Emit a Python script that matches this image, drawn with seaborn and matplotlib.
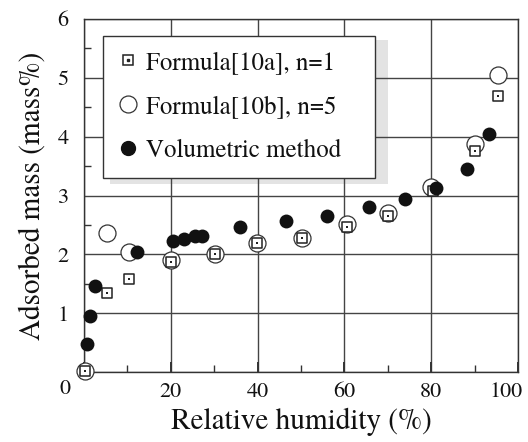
import matplotlib
matplotlib.use("Agg")
import matplotlib.pyplot as plt
import seaborn as sns
import pandas as pd
from matplotlib import ticker
from matplotlib.lines import Line2D
from matplotlib.patches import Rectangle
from matplotlib.transforms import ScaledTranslation
from matplotlib.legend_handler import HandlerTuple

# data
rh_10a = [0.2, 5.2, 10.3, 20.0, 30.1, 39.9, 50.3, 60.6, 70.1, 80.4, 90.1, 95.4]
mass_10a = [0.02, 1.34, 1.58, 1.88, 2.01, 2.19, 2.28, 2.47, 2.66, 3.07, 3.75, 4.70]

rh_10b = [0.2, 5.2, 10.3, 20.0, 30.1, 39.9, 50.3, 60.6, 70.1, 80.0, 90.0, 95.3]
mass_10b = [0.02, 2.37, 2.05, 1.90, 2.00, 2.20, 2.28, 2.52, 2.70, 3.15, 3.88, 5.05]

rh_vol = [0.7, 1.3, 2.6, 12.3, 20.6, 23.1, 25.6, 27.2, 36.0, 46.5, 56.0, 65.6, 74.0, 81.0, 88.2, 93.4]
mass_vol = [0.48, 0.96, 1.47, 2.05, 2.23, 2.27, 2.32, 2.32, 2.47, 2.57, 2.66, 2.80, 2.94, 3.13, 3.46, 4.04]

labels = ["Formula[10a], n=1", "Formula[10b], n=5", "Volumetric method"]
x_ticks = [0, 20, 40, 60, 80, 100]
y_ticks = [0, 1, 2, 3, 4, 5, 6]

sns.set_style("ticks")
plt.rcParams["font.family"] = ["TeX Gyre Termes", "FreeSerif", "STIXGeneral", "DejaVu Serif"]

df_a = pd.DataFrame({"rh": rh_10a, "mass": mass_10a})
df_b = pd.DataFrame({"rh": rh_10b, "mass": mass_10b})
df_v = pd.DataFrame({"rh": rh_vol, "mass": mass_vol})

fig = plt.figure(figsize=(5.28, 4.42), dpi=100)
ax = fig.add_axes([0.159, 0.158, 0.822, 0.799])

edge = "#222222"
sns.scatterplot(data=df_b, x="rh", y="mass", ax=ax, marker="o", s=150, facecolor="white",
                edgecolor="#333333", linewidth=0.9, clip_on=False, zorder=3, legend=False)
sns.scatterplot(data=df_a, x="rh", y="mass", ax=ax, marker="s", s=52, facecolor="white",
                edgecolor=edge, linewidth=1.1, clip_on=False, zorder=4, legend=False)
sns.scatterplot(data=df_a, x="rh", y="mass", ax=ax, marker="s", s=2.5, color=edge,
                linewidth=0, clip_on=False, zorder=5, legend=False)
sns.scatterplot(data=df_v, x="rh", y="mass", ax=ax, marker="o", s=100, color="#111111",
                linewidth=0, clip_on=False, zorder=6, legend=False)

ax.set_xlim(0, 100)
ax.set_ylim(0, 6)
ax.xaxis.set_major_locator(ticker.FixedLocator(x_ticks))
ax.yaxis.set_major_locator(ticker.FixedLocator(y_ticks))
ax.xaxis.set_minor_locator(ticker.MultipleLocator(10))
ax.yaxis.set_minor_locator(ticker.MultipleLocator(0.5))
ax.set_xticklabels([""] + [str(t) for t in x_ticks[1:]])
ax.set_yticklabels([""] + [str(t) for t in y_ticks[1:]])

ax.grid(True, which="major", color="#444444", linewidth=1.0)
ax.set_axisbelow(True)
for sp in ax.spines.values():
    sp.set_color("#333333")
    sp.set_linewidth(1.0)

ax.tick_params(axis="both", which="both", direction="in", colors="#333333",
               labelcolor="#111111", labelsize=16)
ax.tick_params(axis="x", which="major", length=7, width=1.4, pad=7)
ax.tick_params(axis="x", which="minor", length=5, width=1.0)
ax.tick_params(axis="y", which="major", length=0, pad=11)
ax.tick_params(axis="y", which="minor", length=5, width=1.0)

# last x label sits a little to the left, as in the reference
fig.canvas.draw()
lab100 = ax.get_xticklabels()[-1]
lab100.set_transform(lab100.get_transform() + ScaledTranslation(-0.12, 0, fig.dpi_scale_trans))

# single "0" at the corner
ax.annotate("0", xy=(0, 0), xycoords="axes fraction", xytext=(-19, -17),
            textcoords="offset pixels", ha="center", va="center", fontsize=16, color="#111111")

ax.set_xlabel("Relative humidity (%)", fontsize=21, color="#111111", labelpad=4)
ax.set_ylabel("Adsorbed mass (mass%)", fontsize=21, color="#111111", labelpad=8)

# legend shadow
ax.add_patch(Rectangle((0.060, 0.533), 0.640, 0.407, transform=ax.transAxes,
                       facecolor="#e3e3e3", edgecolor="none", zorder=0.2))

h_sq = Line2D([], [], linestyle="none", marker="s", markersize=7.2, markerfacecolor="white",
              markeredgecolor=edge, markeredgewidth=1.1)
h_dot = Line2D([], [], linestyle="none", marker="s", markersize=1.6, color=edge)
h_open = Line2D([], [], linestyle="none", marker="o", markersize=12.2, markerfacecolor="white",
                markeredgecolor="#333333", markeredgewidth=0.9)
h_fill = Line2D([], [], linestyle="none", marker="o", markersize=10, color="#111111")

leg = ax.legend([(h_sq, h_dot), h_open, h_fill], labels,
                handler_map={tuple: HandlerTuple(ndivide=1, pad=0)},
                loc="upper left", bbox_to_anchor=(0.043, 0.558, 0.628, 0.394), mode="expand",
                borderaxespad=0, fontsize=18, frameon=True, fancybox=False, framealpha=1,
                edgecolor="#333333", borderpad=0.6, labelspacing=0.8, handlelength=0.8,
                handletextpad=0.35)
leg.get_frame().set_linewidth(1.0)
leg.set_zorder(10)
for t in leg.get_texts():
    t.set_color("#111111")

plt.savefig("out.png", dpi=100)
plt.close()
print("save png file: out.png")
